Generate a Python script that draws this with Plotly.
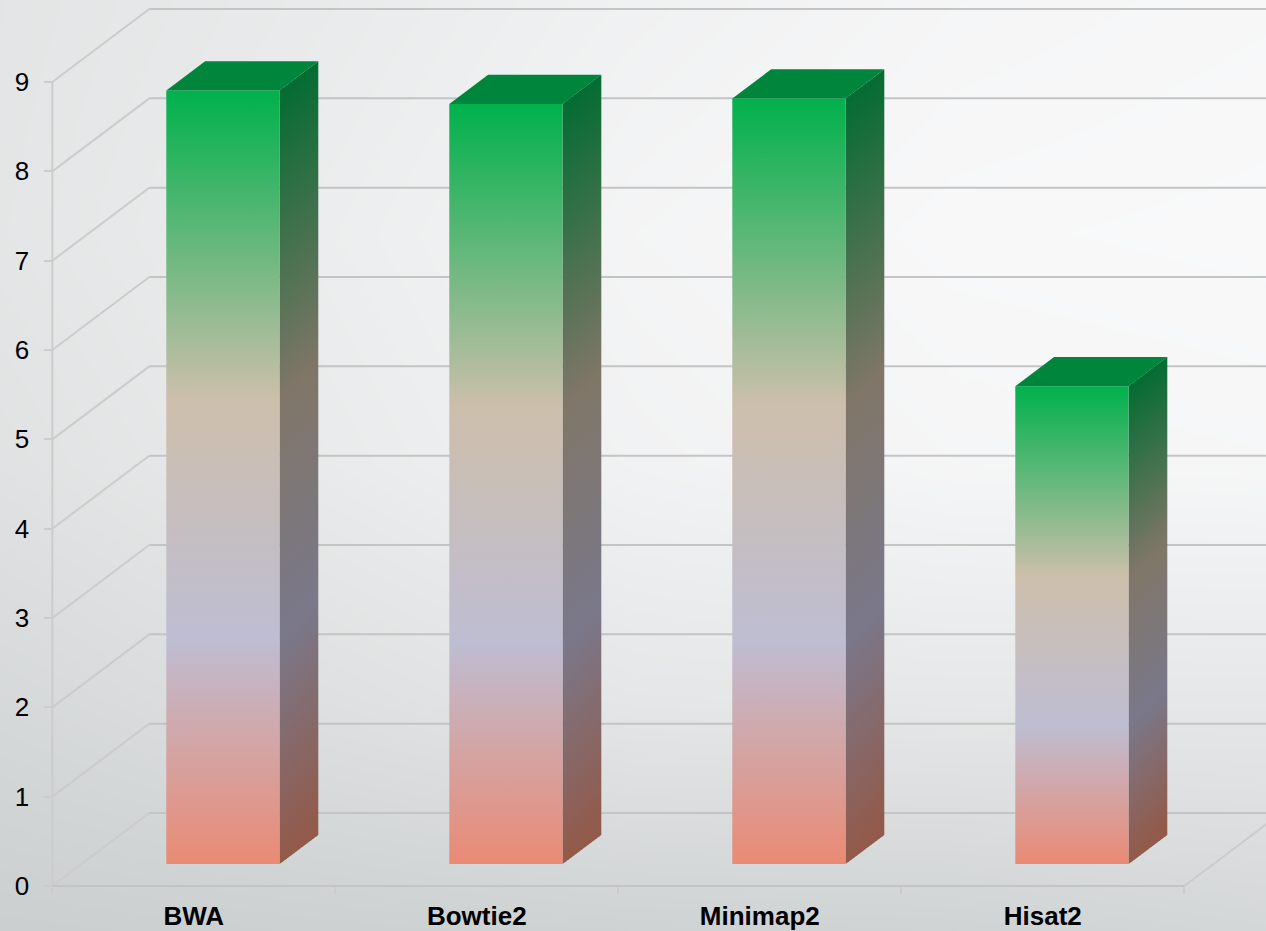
import numpy as np
import plotly.graph_objects as go

# Chart data
categories = ["BWA", "Bowtie2", "Minimap2", "Hisat2"]
values = [8.66, 8.51, 8.57, 5.35]
y_ticks = [0, 1, 2, 3, 4, 5, 6, 7, 8, 9]

# Backdrop brightness, rows from the bottom of the page to the top
backdrop_rows = [
    [203, 205, 207, 208, 212],
    [214, 222, 229, 230, 230],
    [224, 233, 241, 245, 246],
    [228, 236, 244, 248, 249],
    [227, 233, 240, 245, 247],
]

# Colour ramps running from the foot of a bar to its top
front_ramp = [[0, "rgb(234,138,116)"], [0.29, "rgb(190,189,210)"],
              [0.6, "rgb(205,191,172)"], [1, "rgb(0,177,76)"]]
side_ramp = [[0, "rgb(146,90,74)"], [0.29, "rgb(122,120,138)"],
             [0.6, "rgb(128,118,104)"], [1, "rgb(4,108,50)"]]
top_colour = "rgb(0,133,60)"
grid_colour = "#c3c5c5"
wall_colour = "#cbcdcd"

# Page-filling axis ranges and the oblique projection of the 3D box
X_RANGE = [-52.3 / 283, (1266 - 52.3) / 283]
Y_RANGE = [-45 / 89.33, 886 / 89.33]
DEPTH_X, DEPTH_Y = 97 / 283, 73 / 89.33
BAR_WIDTH = 0.4
DEPTH_FRONT, DEPTH_BACK = 0.3, 0.7
SIDE_STRIPS = 14


def project(u, v, depth):
    return u + depth * DEPTH_X, v + depth * DEPTH_Y


def polygon(corners):
    pts = [project(*c) for c in corners]
    pts.append(pts[0])
    return [p[0] for p in pts], [p[1] for p in pts]


def segments(pairs):
    xs, ys = [], []
    for a, b in pairs:
        xa, ya = project(*a)
        xb, yb = project(*b)
        xs += [xa, xb, None]
        ys += [ya, yb, None]
    return xs, ys


fig = go.Figure()

# Backdrop
fig.add_trace(go.Heatmap(
    x=np.linspace(X_RANGE[0], X_RANGE[1], 5),
    y=np.linspace(Y_RANGE[0], Y_RANGE[1], 5),
    z=backdrop_rows, zmin=200, zmax=250, zsmooth="best", showscale=False,
    colorscale=[[0, "rgb(200,204,204)"], [1, "rgb(250,250,251)"]],
    hoverinfo="skip",
))

# Left wall and floor edges
n = len(categories)
wall_pairs = [((0, t, 0), (0, t, 1)) for t in y_ticks]
wall_pairs.append(((n, 0, 0), (n, 0, 1)))
wall_pairs.append(((0, y_ticks[0] - 0.08, 0), (0, y_ticks[-1], 0)))
wx, wy = segments(wall_pairs)
fig.add_trace(go.Scatter(x=wx, y=wy, mode="lines", hoverinfo="skip", showlegend=False,
                         line=dict(color=wall_colour, width=2)))

# Back wall lines and the front floor line
grid_pairs = [((0, t, 1), (n + 1, t, 1)) for t in y_ticks]
grid_pairs.append(((0, 0, 0), (n, 0, 0)))
gx, gy = segments(grid_pairs)
fig.add_trace(go.Scatter(x=gx, y=gy, mode="lines", hoverinfo="skip", showlegend=False,
                         line=dict(color=grid_colour, width=2)))

# Bars: right side as thin strips so the ramp follows the slant, then the front and top
for i, v in enumerate(values):
    left = i + 0.5 - BAR_WIDTH / 2
    right = i + 0.5 + BAR_WIDTH / 2
    span = DEPTH_BACK - DEPTH_FRONT
    for s in range(SIDE_STRIPS):
        d0 = DEPTH_FRONT + span * s / SIDE_STRIPS
        d1 = DEPTH_FRONT + span * min(s + 1.4, SIDE_STRIPS) / SIDE_STRIPS
        dm = DEPTH_FRONT + span * (s + 0.5) / SIDE_STRIPS
        sx, sy = polygon([(right, 0, d0), (right, 0, d1), (right, v, d1), (right, v, d0)])
        base = project(right, 0, dm)[1]
        fig.add_trace(go.Scatter(
            x=sx, y=sy, mode="lines", line=dict(width=0), fill="toself",
            fillgradient=dict(type="vertical", colorscale=side_ramp,
                              start=base + (dm - DEPTH_FRONT) * DEPTH_Y * 0.4,
                              stop=base + v),
            hoverinfo="skip", showlegend=False,
        ))
    fx, fy = polygon([(left, 0, DEPTH_FRONT), (right, 0, DEPTH_FRONT),
                      (right, v, DEPTH_FRONT), (left, v, DEPTH_FRONT)])
    fig.add_trace(go.Scatter(
        x=fx, y=fy, mode="lines", line=dict(width=0),
        fill="toself",
        fillgradient=dict(type="vertical", colorscale=front_ramp,
                          start=project(0, 0, DEPTH_FRONT)[1],
                          stop=project(0, v, DEPTH_FRONT)[1]),
        name=categories[i], hovertemplate="%{text}: " + str(v) + "<extra></extra>",
        text=[categories[i]] * 5, showlegend=False,
    ))
    tx, ty = polygon([(left, v, DEPTH_FRONT), (right, v, DEPTH_FRONT),
                      (right, v, DEPTH_BACK), (left, v, DEPTH_BACK)])
    fig.add_trace(go.Scatter(x=tx, y=ty, mode="lines", line=dict(width=0), fill="toself",
                             fillcolor=top_colour, hoverinfo="skip", showlegend=False))

fig.update_layout(
    width=1266, height=931, autosize=False,
    margin=dict(l=0, r=0, t=0, b=0),
    paper_bgcolor="rgb(235,236,236)", plot_bgcolor="rgba(0,0,0,0)",
    showlegend=False,
    font=dict(family="Liberation Sans, Arial, sans-serif", color="#000000"),
    xaxis=dict(
        range=X_RANGE, domain=[0, 1], anchor="free", position=45 / 931, automargin=False,
        showgrid=False, zeroline=False, showline=False,
        tickmode="array", tickvals=[i + 0.5 for i in range(n)], ticktext=categories,
        ticks="", tickfont=dict(size=26, family="Liberation Sans, Arial, sans-serif", weight="bold"),
        ticklabelstandoff=12,
        minor=dict(tickmode="array", tickvals=list(range(n + 1)), ticks="outside",
                   ticklen=7, tickwidth=2, tickcolor=wall_colour, showgrid=False),
    ),
    yaxis=dict(
        range=Y_RANGE, domain=[0, 1], anchor="free", position=52.3 / 1266, automargin=False,
        showgrid=False, zeroline=False, showline=False,
        tickmode="array", tickvals=y_ticks,
        ticks="outside", ticklen=8, tickwidth=2, tickcolor=wall_colour,
        tickfont=dict(size=26, family="Liberation Sans, Arial, sans-serif"),
        ticklabelstandoff=10,
    ),
)

fig.write_html("out.html", config=dict(displayModeBar=False))
